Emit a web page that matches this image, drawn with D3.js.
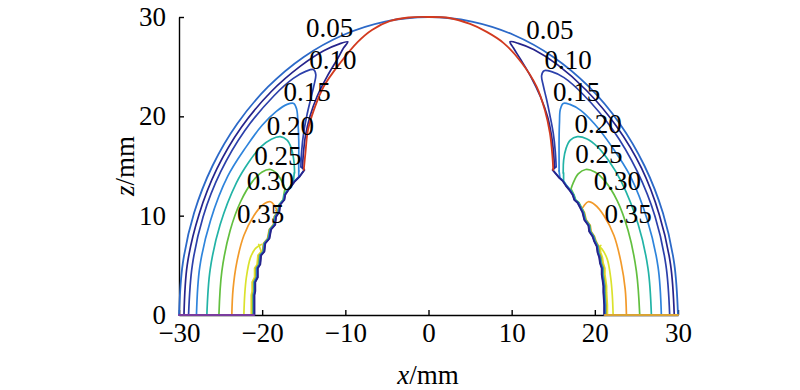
<!DOCTYPE html>
<html><head><meta charset="utf-8">
<script src="https://cdn.jsdelivr.net/npm/d3@7"></script>
<style>body{margin:0;background:#fff}svg{display:block}
svg text{font-family:"Liberation Serif","Times New Roman",Times,serif !important;}</style>
</head><body>
<svg id="c" width="800" height="390"></svg>
<script>
// ---------- data ----------
const levels = ["0.05","0.10","0.15","0.20","0.25","0.30","0.35"];
const xTicks = [-30,-20,-10,0,10,20,30];
const zTicks = [0,10,20,30];

const outerBoundary = [[-30,0],[-29.54,5.21],[-28.19,10.26],[-25.98,15],[-22.98,19.28],[-19.28,22.98],[-15,25.98],[-10.26,28.19],[-5.21,29.54],[0,30],[5.21,29.54],[10.26,28.19],[15,25.98],[19.28,22.98],[22.98,19.28],[25.98,15],[28.19,10.26],[29.54,5.21],[30,0]];

const innerCap = [[-15.0,14.6],[-14.8,16.3],[-14.5,18.6],[-13.8,20.6],[-12.6,23.0],[-10.6,25.4],[-8.5,27.5],[-6.8,28.7],[-4.6,29.6],[-2.4,29.95],[0,30],[2.5,29.9],[5.0,29.3],[7.0,28.5],[9.0,27.4],[11.2,25.4],[13.0,23.0],[14.0,20.6],[14.6,18.3],[14.9,16.0],[15.0,14.6]];

const stepEdgeLeft = [[-15.0,14.6],[-15.6,13.9],[-16.2,13.4],[-16.9,12.6],[-17.3,12.1],[-17.4,11.6],[-17.9,11.1],[-18.0,10.4],[-18.4,9.9],[-18.5,9.1],[-19.0,8.6],[-19.2,7.7],[-19.7,7.2],[-19.8,6.4],[-20.2,6.0],[-20.3,5.1],[-20.6,4.7],[-20.6,3.8],[-20.9,3.3],[-20.9,2.4],[-21.0,2.0],[-21.0,0]];
const stepEdgeRight = [[15.0,14.6],[15.8,13.8],[16.2,13.5],[16.6,13.0],[17.0,12.6],[17.4,12.1],[17.6,11.6],[18.0,11.3],[18.3,10.8],[18.6,10.3],[18.8,9.6],[19.3,9.0],[19.4,8.4],[19.8,7.9],[20.0,7.4],[20.3,6.9],[20.4,6.3],[20.6,5.8],[20.7,5.2],[20.9,4.7],[20.9,4.1],[21.0,3.5],[21.1,2.9],[21.1,2.3],[21.2,1.0],[21.2,0]];

const legL05 = [[-29.4,0],[-29.0,5.1],[-27.6,10.1],[-25.45,14.7],[-22.5,18.9],[-18.9,22.5],[-15.4,25.05],[-12.6,26.6],[-10.7,27.3],[-9.7,27.5],[-10.2,26.9],[-11.0,25.7],[-12.2,24.0],[-13.4,22.0],[-14.25,20.0],[-14.8,18.0],[-15.05,16.2],[-15.15,14.8]];
const legL10 = [[-28.85,0],[-28.4,5.0],[-27.1,9.9],[-25.0,14.4],[-22.1,18.55],[-18.55,22.1],[-16.3,23.8],[-14.7,24.55],[-13.8,24.7],[-13.55,24.2],[-13.75,23.2],[-14.15,21.8],[-14.6,20.2],[-15.0,18.4],[-15.25,16.5],[-15.35,14.9]];
const legL15 = [[-27.9,0],[-27.5,4.85],[-26.2,9.55],[-24.15,13.95],[-21.95,16.9],[-20.0,19.1],[-18.3,20.5],[-17.0,21.2],[-16.2,21.3],[-15.85,20.7],[-15.7,19.4],[-15.6,17.6],[-15.6,15.8],[-15.6,14.5]];
const legL20 = [[-26.65,0],[-26.25,4.6],[-25.05,9.1],[-23.1,13.3],[-21.6,15.4],[-20.2,16.9],[-18.9,17.7],[-17.8,17.95],[-17.0,17.6],[-16.5,16.8],[-16.2,15.6],[-16.1,14.3]];
const legL25 = [[-25.2,0],[-24.85,4.4],[-23.85,8.5],[-22.6,11.4],[-21.2,13.4],[-20.0,14.4],[-19.0,14.65],[-18.2,14.2],[-17.6,13.4],[-17.2,12.6]];
const legL30 = [[-23.65,0],[-23.5,2.6],[-23.05,5.3],[-22.2,8.0],[-21.0,10.0],[-19.9,11.1],[-19.0,11.4],[-18.5,11.0],[-18.2,10.5]];
const legL35 = [[-22.2,0],[-22.1,2.0],[-21.9,3.8],[-21.4,5.8],[-20.8,6.7],[-20.1,7.1]];

const legR05 = [[29.55,0],[29.1,5.1],[27.75,10.1],[25.6,14.8],[22.6,19.0],[19.0,22.6],[15.5,25.2],[12.7,26.7],[10.8,27.35],[9.8,27.5],[10.2,26.9],[11.1,25.7],[12.3,24.0],[13.45,22.0],[14.3,20.0],[14.8,18.0],[15.05,16.2],[15.15,14.8]];
const legR10 = [[29.0,0],[28.55,5.0],[27.25,9.9],[25.1,14.45],[22.2,18.6],[18.6,22.2],[16.3,23.9],[14.8,24.5],[13.9,24.6],[13.6,24.1],[13.8,23.1],[14.2,21.7],[14.6,20.1],[15.0,18.3],[15.25,16.4],[15.35,14.9]];
const legR15 = [[28.0,0],[27.6,4.85],[26.3,9.6],[24.25,14.0],[22.0,17.0],[20.0,19.2],[18.3,20.6],[17.0,21.2],[16.2,21.3],[15.85,20.7],[15.75,19.4],[15.7,17.6],[15.7,15.8],[15.7,14.5]];
const legR20 = [[26.8,0],[26.4,4.65],[25.2,9.15],[23.2,13.4],[21.7,15.5],[20.3,16.95],[19.0,17.75],[17.9,17.95],[17.05,17.6],[16.55,16.8],[16.25,15.6],[16.2,14.3]];
const legR25 = [[25.4,0],[25.0,4.4],[24.0,8.5],[22.7,11.5],[21.2,13.5],[20.0,14.4],[18.9,14.65],[18.0,14.2],[17.4,13.3],[17.1,12.6]];
const legR30 = [[23.8,0],[23.65,2.6],[23.15,5.3],[22.3,8.0],[21.1,10.0],[20.0,11.1],[19.2,11.4],[18.7,11.0],[18.4,10.6]];
const legR35 = [[22.2,0],[22.1,2.0],[21.9,3.8],[21.5,5.6],[20.9,6.6],[20.4,7.0]];

const legsLeft = [legL05, legL10, legL15, legL20, legL25, legL30, legL35];
const legsRight = [legR05, legR10, legR15, legR20, legR25, legR30, legR35];
const joinZLeft = [14.7, 14.7, 14.0, 13.5, 12.5, 10.45, 7.0];
const joinZRight = [14.7, 14.7, 14.0, 13.6, 12.5, 10.5, 6.95];

const labelLeft = [[-11.9,28.9],[-11.5,25.7],[-14.6,22.5],[-16.6,19.1],[-18.1,16.1],[-19.0,13.5],[-20.2,10.2]];
const labelRight = [[14.6,28.7],[16.8,25.7],[17.8,22.5],[20.4,19.3],[20.5,16.3],[22.7,13.5],[24.0,10.2]];

const baseLeft = [[-30,0],[-21,0]];
const baseRight = [[21.2,0],[30,0]];

// ---------- styles ----------
const levelColors = ["#26248c","#2c40ab","#2e84dc","#22b3a6","#62bf3f","#f29a2a","#dbe22c"];
const edgeShift = [0.7,0.35,0,-0.35,-0.8,-1.3,-2.6];
const boundaryColor = "#2c69c8";
const capColor = "#d23a1f";

// ---------- drawing ----------
const svg = d3.select("#c");
const x = d3.scaleLinear().domain([-30,30]).range([179,678]);
const y = d3.scaleLinear().domain([0,30]).range([315,17]);
const smooth = d3.line().x(d=>x(d[0])).y(d=>y(d[1])).curve(d3.curveCatmullRom.alpha(0.5));
const straight = d3.line().x(d=>x(d[0])).y(d=>y(d[1]));
const fmt = d => (d<0 ? "\u2212"+Math.abs(d) : String(d));

// axes
const gx = svg.append("g").attr("transform","translate(0,315)")
  .call(d3.axisBottom(x).tickValues(xTicks).tickSizeInner(-5).tickSizeOuter(0).tickPadding(8).tickFormat(fmt));
const gy = svg.append("g").attr("transform","translate(179,0)")
  .call(d3.axisLeft(y).tickValues(zTicks).tickSizeInner(-5).tickSizeOuter(0).tickPadding(13).tickFormat(fmt));
[gx,gy].forEach(g=>{
  g.attr("font-family",null).attr("font-size",null);
  g.select(".domain").attr("stroke","#000").attr("stroke-width",1.4);
  g.selectAll(".tick line").attr("stroke","#000").attr("stroke-width",1.4);
  g.selectAll(".tick text").style("font-size","27px").attr("fill","#000");
});
gy.selectAll(".tick").filter(d=>d===0).select("line").remove();

// contours
const plot = svg.append("g").attr("fill","none").attr("stroke-linejoin","round").attr("stroke-linecap","round");
function drawSide(legs, edge, joins, sign){
  for(let i=legs.length-1;i>=0;i--){
    const leg = legs[i];
    const tail = [leg[leg.length-1]].concat(edge.filter(p=>p[1] < joins[i]));
    plot.append("path").attr("d", straight(tail))
      .attr("transform", `translate(${sign*edgeShift[i]},0)`)
      .attr("stroke", levelColors[i]).attr("stroke-width",1.7);
    plot.append("path").attr("d", smooth(leg))
      .attr("stroke", levelColors[i]).attr("stroke-width",1.7);
  }
}
drawSide(legsLeft, stepEdgeLeft, joinZLeft, 1);
drawSide(legsRight, stepEdgeRight, joinZRight, -1);

plot.append("path").attr("d", smooth(outerBoundary)).attr("stroke", boundaryColor).attr("stroke-width",1.8);
plot.append("path").attr("d", smooth(innerCap)).attr("stroke", capColor).attr("stroke-width",1.8);
plot.append("path").attr("d", straight(baseLeft)).attr("stroke","#7a3c9e").attr("stroke-width",2);
plot.append("path").attr("d", straight(baseRight)).attr("stroke","#d9a335").attr("stroke-width",2);

// contour labels
const lab = svg.append("g").style("font-size","27px").attr("fill","#000").attr("text-anchor","middle");
levels.forEach((t,i)=>{
  lab.append("text").attr("x",x(labelLeft[i][0])).attr("y",y(labelLeft[i][1])).attr("dy","0.35em").text(t);
  lab.append("text").attr("x",x(labelRight[i][0])).attr("y",y(labelRight[i][1])).attr("dy","0.35em").text(t);
});

// axis titles
const xt = svg.append("text").attr("x",428).attr("y",384).attr("text-anchor","middle")
  .style("font-size","27px").attr("fill","#000");
xt.append("tspan").attr("font-style","italic").text("x");
xt.append("tspan").text("/mm");
const yt = svg.append("text").attr("transform","translate(134,166) rotate(-90)").attr("text-anchor","middle")
  .style("font-size","27px").attr("fill","#000");
yt.append("tspan").attr("font-style","italic").text("z");
yt.append("tspan").text("/mm");
</script>
</body></html>
